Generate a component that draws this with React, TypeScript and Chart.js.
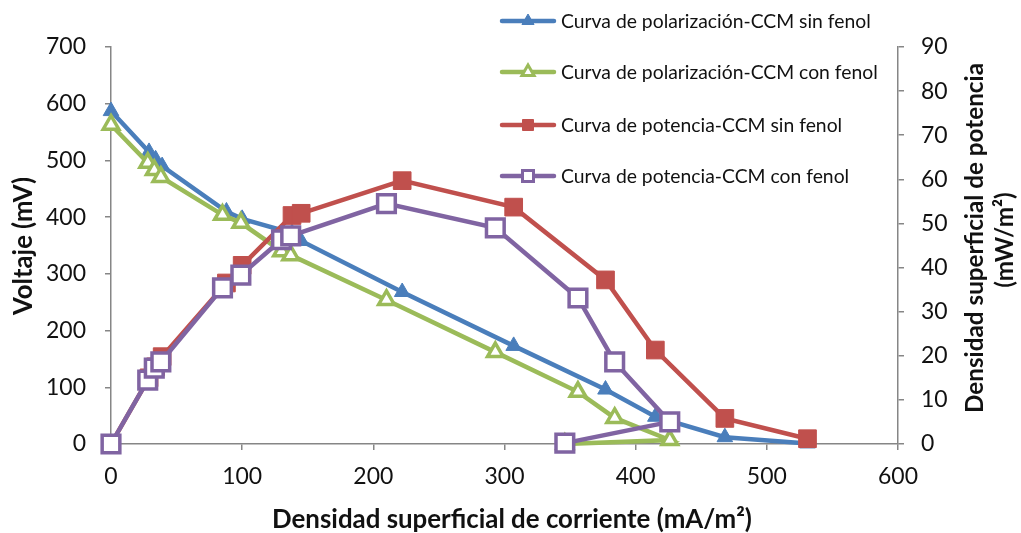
import React, { useEffect, useRef } from "react";
import { Chart, registerables } from "chart.js";

Chart.register(...registerables);

// ---- Data ----
const currentSin = [0, 29, 34, 39, 88, 100, 138, 145, 222, 307, 377, 415, 468, 531];
const voltageSin = [587, 515, 502, 490, 410, 397, 372, 358, 268, 173, 96, 48, 12, 1];
const powerSin = [0, 15, 17.5, 19.8, 36.5, 40.5, 51.8, 52.3, 59.7, 53.7, 37.2, 21.3, 5.8, 1.2];

const currentCon = [0, 28, 33, 38, 85, 99, 130, 137, 210, 293, 356, 384, 426, 346];
const voltageCon = [563, 496, 483, 471, 404, 390, 340, 333, 254, 162, 92, 46, 7, 0];
const powerCon = [0, 14.5, 17.2, 18.6, 35.4, 38.3, 46.3, 47.2, 54.5, 49, 33.1, 18.6, 5.0, 0.2];

const seriesLabels = [
  "Curva de polarización-CCM sin fenol",
  "Curva de polarización-CCM con fenol",
  "Curva de potencia-CCM sin fenol",
  "Curva de potencia-CCM con fenol",
];
const xTitle = "Densidad superficial de corriente (mA/m²)";
const yTitle = "Voltaje (mV)";
const y2Title = ["Densidad superficial de potencia", "(mW/m²)"];

const BLUE = "#4A7EBB";
const GREEN = "#9BBB59";
const RED = "#C0504D";
const PURPLE = "#8064A2";
const FONT = "Lato";

const pts = (xs: number[], ys: number[]) => xs.map((x, i) => ({ x, y: ys[i] }));

let measureCtx: CanvasRenderingContext2D | null = null;
function fitSize(text: string, target: number, bold: boolean) {
  if (!measureCtx) measureCtx = document.createElement("canvas").getContext("2d");
  const ctx = measureCtx!;
  ctx.font = `${bold ? "bold " : ""}100px ${FONT}`;
  const w = ctx.measureText(text).width;
  return (100 * target) / w;
}

function drawTri(ctx: CanvasRenderingContext2D, x: number, y: number, r: number) {
  ctx.beginPath();
  for (let k = 0; k < 3; k++) {
    const a = -Math.PI / 2 + (k * 2 * Math.PI) / 3;
    const px = x + Math.cos(a) * r;
    const py = y + Math.sin(a) * r;
    if (k === 0) ctx.moveTo(px, py);
    else ctx.lineTo(px, py);
  }
  ctx.closePath();
}

const overlayPlugin = {
  id: "overlay",
  afterDraw(chart: any) {
    const ctx: CanvasRenderingContext2D = chart.ctx;
    ctx.save();
    // Legend
    const rows = [21, 72, 125, 176];
    const styles = [
      { c: BLUE, shape: "tri", fill: true },
      { c: GREEN, shape: "tri", fill: false },
      { c: RED, shape: "sq", fill: true },
      { c: PURPLE, shape: "sq", fill: false },
    ];
    const legSize = fitSize(seriesLabels[0], 310, false);
    rows.forEach((ry, i) => {
      const s = styles[i];
      ctx.strokeStyle = s.c;
      ctx.lineWidth = 4.5;
      ctx.lineCap = "round";
      ctx.beginPath();
      ctx.moveTo(502, ry);
      ctx.lineTo(554, ry);
      ctx.stroke();
      ctx.lineCap = "butt";
      const cx = 528;
      if (s.shape === "tri") {
        drawTri(ctx, cx, ry, 7);
      } else {
        ctx.beginPath();
        ctx.rect(cx - 5.5, ry - 5.5, 11, 11);
      }
      ctx.fillStyle = s.fill ? s.c : "#ffffff";
      ctx.fill();
      ctx.lineWidth = s.fill ? 1 : 3;
      ctx.strokeStyle = s.c;
      ctx.stroke();
      ctx.fillStyle = "#111";
      ctx.font = `${legSize}px ${FONT}`;
      ctx.textAlign = "left";
      ctx.textBaseline = "middle";
      ctx.fillText(seriesLabels[i], 561, ry + 1);
    });
    // Axis titles
    ctx.fillStyle = "#111";
    ctx.textAlign = "center";
    ctx.textBaseline = "middle";
    ctx.font = `bold ${fitSize(xTitle, 480, true)}px ${FONT}`;
    ctx.fillText(xTitle, 512, 520);
    ctx.save();
    ctx.font = `bold ${fitSize(yTitle, 138, true)}px ${FONT}`;
    ctx.translate(24, 246);
    ctx.rotate(-Math.PI / 2);
    ctx.fillText(yTitle, 0, 0);
    ctx.restore();
    const rSize = fitSize(y2Title[0], 350, true);
    ctx.font = `bold ${rSize}px ${FONT}`;
    ctx.save();
    ctx.translate(975, 238);
    ctx.rotate(-Math.PI / 2);
    ctx.fillText(y2Title[0], 0, 0);
    ctx.restore();
    ctx.save();
    ctx.translate(1005, 240);
    ctx.rotate(-Math.PI / 2);
    ctx.fillText(y2Title[1], 0, 0);
    ctx.restore();
    ctx.restore();
  },
};

export default function App() {
  const ref = useRef<HTMLCanvasElement | null>(null);
  useEffect(() => {
    if (!ref.current) return;
    const axisColor = "#868686";
    const tickFont = { family: FONT, size: fitSize("700", 40, false) };
    const common = (color: string, fill: string, style: string, r: number, bw: number, order: number) => ({
      showLine: true,
      borderColor: color,
      backgroundColor: fill,
      borderWidth: 4.5,
      pointStyle: style,
      pointRadius: r,
      pointBorderWidth: bw,
      pointBackgroundColor: fill,
      pointBorderColor: color,
      clip: false,
      order,
    });
    const chart = new Chart(ref.current, {
      type: "scatter",
      data: {
        datasets: [
          { label: seriesLabels[0], data: pts(currentSin, voltageSin), yAxisID: "y", ...common(BLUE, BLUE, "triangle", 9, 1, 4) },
          { label: seriesLabels[1], data: pts(currentCon, voltageCon), yAxisID: "y", ...common(GREEN, "#ffffff", "triangle", 9, 3.5, 3) },
          { label: seriesLabels[2], data: pts(currentSin, powerSin), yAxisID: "y2", ...common(RED, RED, "rect", 12.5, 1, 2) },
          { label: seriesLabels[3], data: pts(currentCon, powerCon), yAxisID: "y2", ...common(PURPLE, "#ffffff", "rect", 12.5, 3.5, 1) },
        ],
      },
      options: {
        animation: false,
        responsive: true,
        maintainAspectRatio: false,
        layout: { padding: { top: 47, left: 0, right: 0, bottom: 0 } },
        plugins: { legend: { display: false }, tooltip: { enabled: false } },
        scales: {
          x: {
            type: "linear",
            position: "bottom",
            min: 0,
            max: 600,
            ticks: { stepSize: 100, font: tickFont, color: "#111", padding: 13, maxRotation: 0 },
            grid: { display: true, drawOnChartArea: false, drawTicks: true, tickLength: 6, color: axisColor, lineWidth: 1.5 },
            border: { display: true, color: axisColor, width: 1.5 },
            afterFit: (s: any) => { s.height = 89; },
          },
          y: {
            type: "linear",
            position: "left",
            min: 0,
            max: 700,
            ticks: { stepSize: 100, font: tickFont, color: "#111", padding: 19 },
            grid: { display: true, drawOnChartArea: false, drawTicks: true, tickLength: 6, color: axisColor, lineWidth: 1.5 },
            border: { display: true, color: axisColor, width: 1.5 },
            afterFit: (s: any) => { s.width = 111; },
          },
          y2: {
            type: "linear",
            position: "right",
            min: 0,
            max: 90,
            ticks: { stepSize: 10, font: tickFont, color: "#111", padding: 17 },
            grid: { display: true, drawOnChartArea: false, drawTicks: true, tickLength: 6, color: axisColor, lineWidth: 1.5 },
            border: { display: true, color: axisColor, width: 1.5 },
            afterFit: (s: any) => { s.width = 123; },
          },
        },
      },
      plugins: [overlayPlugin],
    } as any);
    return () => chart.destroy();
  }, []);
  return (
    <div style={{ position: "absolute", left: 0, top: 0, width: 1021, height: 533, background: "#fff" }}>
      <canvas ref={ref} />
    </div>
  );
}
